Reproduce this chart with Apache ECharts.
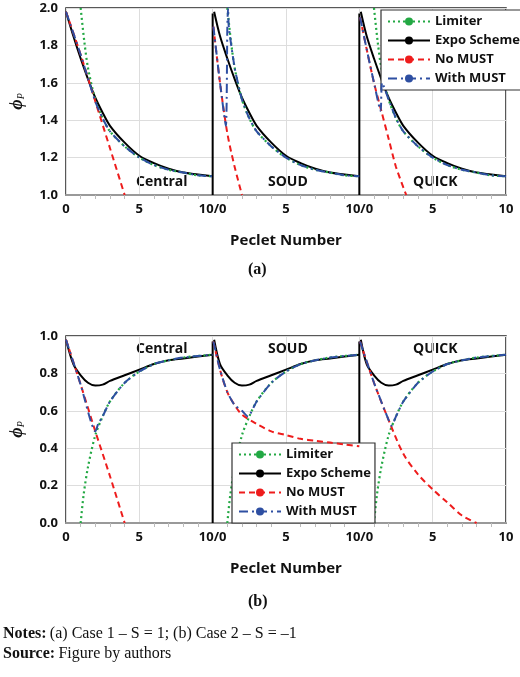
<!DOCTYPE html>
<html>
<head>
<meta charset="utf-8">
<script src="https://cdn.jsdelivr.net/npm/echarts@6/dist/echarts.min.js"></script>
<style>
  body { margin: 0; background: #fff; }
  #chart { width: 520px; height: 677px; }
</style>
</head>
<body>
<div id="chart"></div>
<script>
// Pe samples inside one 0-10 segment, segments laid side by side (Central, SOUD, QUICK)
const schemes = ["Central", "SOUD", "QUICK"];
const xTickLabels = { 0: "0", 5: "5", 10: "10/0", 15: "5", 20: "10/0", 25: "5", 30: "10" };

// Case 1, S = 1 (top panel)
const expoPeA = [0, 0.5, 1, 1.5, 2, 2.5, 3, 4, 5, 6, 7, 8, 9, 10];
const expoA = [1.98, 1.85, 1.73, 1.62, 1.52, 1.44, 1.37, 1.28, 1.21, 1.17, 1.14, 1.12, 1.11, 1.10];
const limPeA = [1, 1.25, 1.5, 2, 2.5, 3, 4, 5, 6, 7, 8, 9, 10];
const limA = [2.0, 1.82, 1.68, 1.51, 1.41, 1.34, 1.26, 1.2, 1.16, 1.135, 1.12, 1.105, 1.10];
const noMustA = [
  [[0, 1.98], [1, 1.75], [2, 1.5], [3, 1.25], [4, 1.0]],
  [[0.05, 1.9], [0.5, 1.6], [1, 1.33], [1.5, 1.15], [2, 1.0]],
  [[0.05, 1.95], [0.5, 1.78], [1, 1.6], [1.5, 1.45], [2, 1.3], [2.5, 1.15], [3.2, 1.0]]
];
const withMustA = [
  [[0, 1.98], [1, 1.75], [2, 1.5], [2.5, 1.41], [3, 1.34], [4, 1.26], [5, 1.2], [6, 1.16], [7, 1.135], [8, 1.12], [9, 1.105], [10, 1.1]],
  [[0.05, 1.9], [0.5, 1.6], [0.9, 1.37], [1.0, 1.9], [1.05, 2.0], [1.1, 1.9], [1.5, 1.68], [2, 1.51], [2.5, 1.41], [3, 1.34], [4, 1.26], [5, 1.2], [6, 1.16], [7, 1.135], [8, 1.12], [9, 1.105], [10, 1.1]],
  [[0.05, 1.95], [0.5, 1.78], [1, 1.6], [1.45, 1.45], [1.55, 1.6], [2, 1.51], [2.5, 1.41], [3, 1.34], [4, 1.26], [5, 1.2], [6, 1.16], [7, 1.135], [8, 1.12], [9, 1.105], [10, 1.1]]
];

// Case 2, S = -1 (bottom panel)
const expoPeB = [0, 0.5, 1, 1.5, 2, 2.5, 3, 4, 5, 6, 7, 8, 9, 10];
const expoB = [0.98, 0.85, 0.79, 0.75, 0.735, 0.74, 0.76, 0.79, 0.82, 0.85, 0.87, 0.88, 0.89, 0.90];
const limPeB = [1, 1.2, 1.5, 2, 2.5, 3, 4, 5, 6, 7, 8, 10];
const limB = [0.0, 0.15, 0.3, 0.47, 0.57, 0.65, 0.75, 0.81, 0.85, 0.87, 0.885, 0.90];
const noMustB = [
  [[0, 0.98], [1, 0.74], [2, 0.49], [3, 0.25], [4, 0.0]],
  [[0.05, 0.97], [0.5, 0.82], [1, 0.7], [1.5, 0.63], [2, 0.58], [3, 0.53], [4, 0.49], [5, 0.47], [6, 0.45], [7, 0.44], [8, 0.43], [9, 0.42], [10, 0.41]],
  [[0.05, 0.97], [1, 0.75], [2, 0.55], [3, 0.37], [4, 0.26], [5, 0.18], [6, 0.11], [7, 0.04], [8, 0.0]]
];
const withMustB = [
  [[0, 0.98], [1, 0.74], [2, 0.49], [2.2, 0.53], [2.5, 0.57], [3, 0.65], [4, 0.75], [5, 0.81], [6, 0.85], [7, 0.87], [8, 0.885], [10, 0.9]],
  [[0.05, 0.97], [0.5, 0.82], [1, 0.7], [1.5, 0.63], [2, 0.6], [2.4, 0.57], [3, 0.65], [4, 0.75], [5, 0.81], [6, 0.85], [7, 0.87], [8, 0.885], [10, 0.9]],
  [[0.05, 0.97], [1, 0.75], [2, 0.55], [2.2, 0.52], [2.5, 0.57], [3, 0.65], [4, 0.75], [5, 0.81], [6, 0.85], [7, 0.87], [8, 0.885], [10, 0.9]]
];

// helpers: shift segment k by 10*k, separate segments with null
let joinSegs = (segs) => {
  let out = [];
  segs.forEach((seg, k) => {
    seg.forEach((p) => out.push([p[0] + 10 * k, p[1]]));
    if (k < segs.length - 1) out.push(null);
  });
  return out;
};
let repeatCurve = (xs, ys) => [0, 1, 2].map(() => xs.map((x, i) => [x, ys[i]]));
let expoCurve = (xs, ys) => [0, 1, 2].map((k) => xs.map((x, i) => [k > 0 && x === 0 ? 0.1 : x, ys[i]]));
// vertical walls at 10 and 20
let wallData = (bottom, top) => [[10, bottom], [10, top], null, [20, bottom], [20, top]];

const colLim = "#22a843", colExpo = "#000", colNo = "#ee1c1c", colWith = "#2e4fa2";
const font = "Open Sans";

let mkSeries = (idx, lim, expo, walls, no, wm) => [
  { name: "Limiter", type: "line", xAxisIndex: idx, yAxisIndex: idx, data: lim, symbol: "none", smooth: 0.3,
    lineStyle: { color: colLim, width: 2.2, type: [2, 3] }, itemStyle: { color: colLim }, z: 3 },
  { name: "Expo Scheme", type: "line", xAxisIndex: idx, yAxisIndex: idx, data: expo, symbol: "none", smooth: 0.3,
    lineStyle: { color: colExpo, width: 2 }, itemStyle: { color: colExpo }, z: 2 },
  { name: "Expo Scheme", type: "line", xAxisIndex: idx, yAxisIndex: idx, data: walls, symbol: "none",
    lineStyle: { color: colExpo, width: 2 }, itemStyle: { color: colExpo }, z: 2 },
  { name: "No MUST", type: "line", xAxisIndex: idx, yAxisIndex: idx, data: no, symbol: "none", smooth: 0.3,
    lineStyle: { color: colNo, width: 2, type: [6, 4] }, itemStyle: { color: colNo }, z: 4 },
  { name: "With MUST", type: "line", xAxisIndex: idx, yAxisIndex: idx, data: wm, symbol: "none", smooth: 0.2,
    lineStyle: { color: colWith, width: 2, type: [9, 4, 2, 4] }, itemStyle: { color: colWith }, z: 5 }
];

let xAxisCfg = (idx) => ({
  gridIndex: idx, type: "value", min: 0, max: 30, interval: 5,
  axisLine: { lineStyle: { color: "#999", width: 2 } },
  axisTick: { show: false },
  minorTick: { show: true, splitNumber: 5, length: 4, lineStyle: { color: "#bbb" } },
  splitLine: { show: true, lineStyle: { color: "#ddd" } },
  axisLabel: { fontFamily: font, fontWeight: "bold", fontSize: 13, color: "#111", formatter: (v) => xTickLabels[v] },
  name: "Peclet Number", nameLocation: "middle", nameGap: 38,
  nameTextStyle: { fontFamily: font, fontWeight: "bold", fontSize: 15, color: "#111" }
});
let yAxisCfg = (idx, min, max) => ({
  gridIndex: idx, type: "value", min: min, max: max, interval: 0.2,
  axisLine: { show: false }, axisTick: { show: false },
  splitLine: { lineStyle: { color: "#ddd" } },
  axisLabel: { fontFamily: font, fontWeight: "bold", fontSize: 13, color: "#111", formatter: (v) => v.toFixed(1) },
  name: "{a|ϕ}{b|P}", nameLocation: "middle", nameGap: 40, nameRotate: 90,
  nameTextStyle: { rich: { a: { fontFamily: "Liberation Serif", fontStyle: "italic", fontWeight: "bold", fontSize: 18, color: "#111" }, b: { fontFamily: "Liberation Serif", fontStyle: "italic", fontSize: 10, color: "#111", padding: [8, 0, 0, 0] } } }
});

let legendCfg = (left, top) => ({
  data: ["Limiter", "Expo Scheme", "No MUST", "With MUST"],
  orient: "vertical", left: left, top: top, padding: [5, 4, 5, 6], itemGap: 6,
  itemWidth: 42, itemHeight: 10, backgroundColor: "#fff", borderColor: "#333", borderWidth: 1.2,
  textStyle: { fontFamily: font, fontWeight: "bold", fontSize: 13, color: "#111" }
});

let segLabels = (y) => schemes.map((s, k) => ({
  type: "text", left: [136, 268, 413][k], top: y,
  style: { text: s, fontFamily: font, fontWeight: "bold", fontSize: 14, fill: "#111" }
}));

const chart = echarts.init(document.getElementById("chart"));
chart.setOption({
  animation: false,
  grid: [
    { left: 65, right: 14, top: 8, height: 187, show: true, borderColor: "#222", borderWidth: 1.5, backgroundColor: "transparent" },
    { left: 65, right: 14, top: 336, height: 187, show: true, borderColor: "#222", borderWidth: 1.5, backgroundColor: "transparent" }
  ],
  xAxis: [xAxisCfg(0), xAxisCfg(1)],
  yAxis: [yAxisCfg(0, 1.0, 2.0), yAxisCfg(1, 0, 1.0)],
  legend: [legendCfg(381, 10), legendCfg(232, 443)],
  series: [
    ...mkSeries(0, joinSegs(repeatCurve(limPeA, limA)), joinSegs(expoCurve(expoPeA, expoA)), wallData(1.0, 1.97), joinSegs(noMustA), joinSegs(withMustA)),
    ...mkSeries(1, joinSegs(repeatCurve(limPeB, limB)), joinSegs(expoCurve(expoPeB, expoB)), wallData(0.0, 0.97), joinSegs(noMustB), joinSegs(withMustB))
  ],
  graphic: [
    ...segLabels(175), ...segLabels(342),
    { type: "text", left: 248, top: 262, style: { text: "(a)", fontFamily: "Liberation Serif", fontWeight: "bold", fontSize: 16, fill: "#111" } },
    { type: "text", left: 248, top: 594, style: { text: "(b)", fontFamily: "Liberation Serif", fontWeight: "bold", fontSize: 16, fill: "#111" } },
    { type: "text", left: 3, top: 626, style: { rich: { b: { fontFamily: "Liberation Serif", fontWeight: "bold", fontSize: 16 }, n: { fontFamily: "Liberation Serif", fontSize: 16 } }, text: "{b|Notes:} {n|(a) Case 1 – S = 1; (b) Case 2 – S = –1}", fill: "#111" } },
    { type: "text", left: 3, top: 646, style: { rich: { b: { fontFamily: "Liberation Serif", fontWeight: "bold", fontSize: 16 }, n: { fontFamily: "Liberation Serif", fontSize: 16 } }, text: "{b|Source:} {n|Figure by authors}", fill: "#111" } }
  ]
});
</script>
</body>
</html>
